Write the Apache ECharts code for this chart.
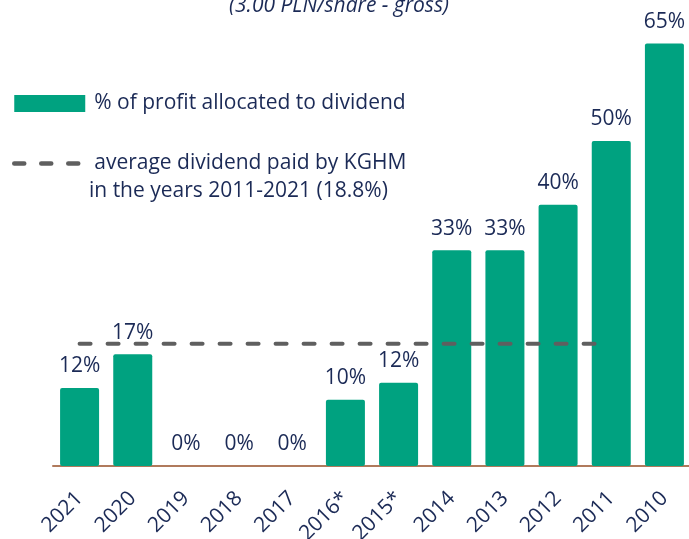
<!DOCTYPE html>
<html>
<head>
<meta charset="utf-8">
<script src="https://cdn.jsdelivr.net/npm/echarts@6/dist/echarts.min.js"></script>
<style>
  html, body { margin: 0; padding: 0; background: #fff; }
  #chart { width: 689px; height: 539px; }
</style>
</head>
<body>
<div id="chart"></div>
<script>
// lata (od najnowszego)
var years = ['2021', '2020', '2019', '2018', '2017', '2016*', '2015*', '2014', '2013', '2012', '2011', '2010']
// % zysku przeznaczonego na dywidendę
var share = [12, 17.2, 0, 0, 0, 10.2, 12.8, 33.2, 33.2, 40.2, 50, 65]
var shareLabels = ['12%', '17%', '0%', '0%', '0%', '10%', '12%', '33%', '33%', '40%', '50%', '65%']
// średnia 2011-2021
var average = [18.8, 18.8, 18.8, 18.8, 18.8, 18.8, 18.8, 18.8, 18.8, 18.8, 18.8, null]

var navy = '#1b2a56'
var font = 'Open Sans'
var myChart = echarts.init(document.getElementById('chart'))

var option = {
  animation: false,
  title: [
    {
      text: '(3.00 PLN/share - gross)',
      left: 339,
      textAlign: 'center',
      top: -4,
      padding: 0,
      textStyle: { fontFamily: font, fontStyle: 'italic', fontWeight: 'normal', fontSize: 21, color: navy }
    },
    {
      // druga linia opisu średniej
      text: 'in the years 2011-2021 (18.8%)',
      left: 89,
      top: 178,
      padding: 0,
      textStyle: { fontFamily: font, fontWeight: 'normal', fontSize: 21, lineHeight: 27, color: navy }
    }
  ],
  legend: {
    orient: 'vertical',
    left: 12,
    top: 90,
    padding: 0,
    itemWidth: 71,
    itemHeight: 17,
    itemGap: 33,
    textStyle: { fontFamily: font, fontSize: 21, color: navy, lineHeight: 27, padding: [0, 0, 0, 4] },
    data: [
      { name: '% of profit allocated to dividend', icon: 'rect' },
      {
        name: 'average dividend paid by KGHM',
        itemStyle: { opacity: 0 },
        lineStyle: { width: 4.5, type: [10, 17], cap: 'round', color: '#5f5f5f' }
      }
    ]
  },
  grid: { left: 53, right: -2, top: 11, bottom: 73, outerBoundsMode: 'none', containLabel: false },
  xAxis: {
    type: 'category',
    data: years,
    axisLine: { lineStyle: { color: '#b07a5c', width: 2 } },
    axisTick: { show: false },
    axisLabel: {
      rotate: 45,
      margin: 29,
      fontFamily: font,
      fontSize: 21,
      color: navy
    }
  },
  yAxis: {
    type: 'value',
    min: 0,
    max: 70,
    show: false,
    splitLine: { show: false }
  },
  series: [
    {
      name: '% of profit allocated to dividend',
      type: 'bar',
      data: share,
      barWidth: 39,
      itemStyle: { color: '#00a280', borderRadius: 2 },
      label: {
        show: true,
        position: 'top',
        distance: 11,
        fontFamily: font,
        fontSize: 21,
        color: navy,
        formatter: function (p) { return shareLabels[p.dataIndex] }
      }
    },
    {
      name: 'average dividend paid by KGHM',
      type: 'line',
      data: average,
      symbol: 'none',
      z: 5,
      lineStyle: { color: '#5f5f5f', width: 4, type: [11, 17], cap: 'round' }
    }
  ]
}

myChart.setOption(option)
</script>
</body>
</html>
